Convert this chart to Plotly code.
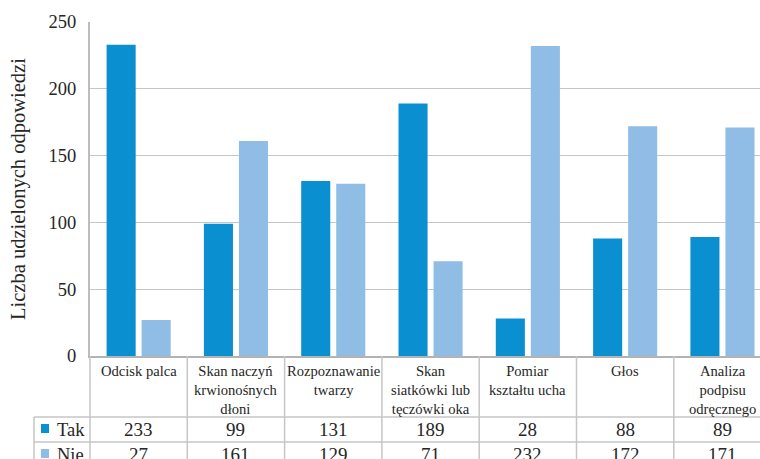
import plotly.graph_objects as go

# Survey results: which biometric methods respondents accept
categories = [
    "Odcisk palca",
    "Skan naczyń<br>krwionośnych<br>dłoni",
    "Rozpoznawanie<br>twarzy",
    "Skan<br>siatkówki lub<br>tęczówki oka",
    "Pomiar<br>kształtu ucha",
    "Głos",
    "Analiza<br>podpisu<br>odręcznego",
]
tak = [233, 99, 131, 189, 28, 88, 89]
nie = [27, 161, 129, 71, 232, 172, 171]
series_names = ["Tak", "Nie"]
y_ticks = [0, 50, 100, 150, 200, 250]

COL_TAK = "#0a8fd0"
COL_NIE = "#8fbde6"
TEXT = "#262626"
GRID = "#c6c6c6"
FONT = "Liberation Serif"

W, H = 760, 459
L, R, T, B = 90, 0, 22, 103
plot_w = W - L - R
plot_h = H - T - B
cat_px = 97.3  # pixel width of one category column

def px_x(px):
    return (px - L) / plot_w

def px_y(py):
    return (H - B - py) / plot_h

xs = list(range(len(categories)))

fig = go.Figure()
fig.add_trace(go.Bar(x=xs, y=tak, name=series_names[0], marker_color=COL_TAK,
                     marker_line_width=0))
fig.add_trace(go.Bar(x=xs, y=nie, name=series_names[1], marker_color=COL_NIE,
                     marker_line_width=0))

annotations = []
shapes = []

# Category header labels of the data table
for i, c in enumerate(categories):
    annotations.append(dict(
        x=i, xref="x", y=px_y(361), yref="paper", yanchor="top", xanchor="center",
        text=c, showarrow=False, align="center",
        font=dict(family=FONT, size=14.6, color=TEXT),
    ))

# Value rows of the data table
row_centers = {0: 429.5, 1: 454.5}
for r, vals in enumerate([tak, nie]):
    for i, v in enumerate(vals):
        annotations.append(dict(
            x=i, xref="x", y=px_y(row_centers[r]), yref="paper",
            yanchor="middle", xanchor="center", text=str(v), showarrow=False,
            font=dict(family=FONT, size=19, color=TEXT),
        ))
    annotations.append(dict(
        x=px_x(55), xref="paper", y=px_y(row_centers[r]), yref="paper",
        yanchor="middle", xanchor="left", text=series_names[r], showarrow=False,
        font=dict(family=FONT, size=18.5, color=TEXT),
    ))
    col = COL_TAK if r == 0 else COL_NIE
    cy = row_centers[r] - 1
    shapes.append(dict(type="rect", xref="paper", yref="paper",
                       x0=px_x(41), x1=px_x(49), y0=px_y(cy - 4.5), y1=px_y(cy + 4.5),
                       fillcolor=col, line=dict(width=0)))

# Y-axis title
annotations.append(dict(
    x=px_x(18), xref="paper", y=0.5, yref="paper", textangle=-90,
    xanchor="center", yanchor="middle", showarrow=False,
    text="Liczba udzielonych odpowiedzi",
    font=dict(family=FONT, size=20.5, color=TEXT),
))

# Table grid lines
for k in range(1, len(categories) + 1):
    shapes.append(dict(type="line", xref="x", yref="paper",
                       x0=k - 0.5, x1=k - 0.5, y0=px_y(356), y1=px_y(470),
                       line=dict(color=GRID, width=1.5)))
shapes.append(dict(type="line", xref="paper", yref="paper", x0=0, x1=0,
                   y0=px_y(356), y1=px_y(470), line=dict(color=GRID, width=1.5)))
shapes.append(dict(type="line", xref="paper", yref="paper", x0=px_x(34), x1=px_x(34),
                   y0=px_y(417), y1=px_y(470), line=dict(color=GRID, width=1.5)))
for py in (417, 442):
    shapes.append(dict(type="line", xref="paper", yref="paper", x0=px_x(34), x1=1,
                       y0=px_y(py), y1=px_y(py), line=dict(color=GRID, width=1.5)))

x_end = -0.5 + plot_w / cat_px

fig.update_layout(
    width=W, height=H,
    margin=dict(l=L, r=R, t=T, b=B, pad=0),
    paper_bgcolor="white", plot_bgcolor="white",
    barmode="group", bargap=0.28, bargroupgap=0.17,
    showlegend=False,
    font=dict(family=FONT, color=TEXT),
    xaxis=dict(range=[-0.5, x_end], showticklabels=False, showgrid=False,
               zeroline=False, showline=True, linecolor="#b3b3b3", linewidth=2,
               ticks=""),
    yaxis=dict(range=[0, 250], tickvals=y_ticks, showgrid=True, gridcolor=GRID,
               gridwidth=1, zeroline=False, showline=True, linecolor="#bdbdbd",
               linewidth=2, ticks="", ticklabelstandoff=8,
               tickfont=dict(family=FONT, size=18.5, color=TEXT)),
    annotations=annotations,
    shapes=shapes,
)

fig.write_html("out.html")
